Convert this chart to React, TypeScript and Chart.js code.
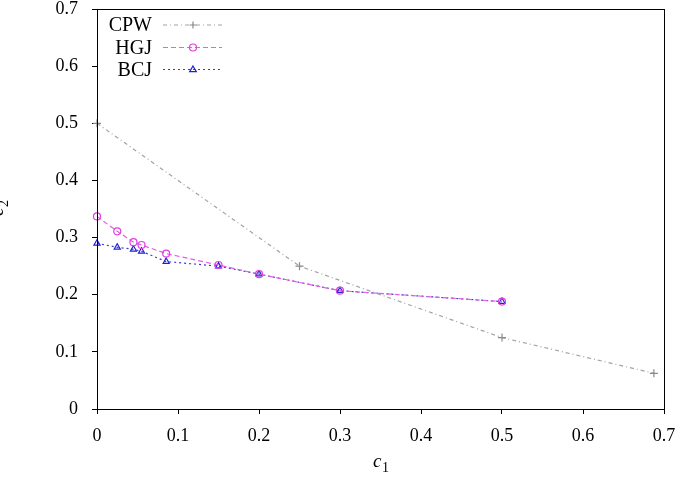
import React, { useEffect, useRef } from "react";
import { Chart, registerables } from "chart.js";

Chart.register(...registerables);

// c1 / c2 pairs for each method
const cpwX = [0, 0.25, 0.5, 0.6875];
const cpwY = [0.5, 0.25, 0.125, 0.0625];

const hgjX = [0, 0.025, 0.045, 0.055, 0.0854, 0.15, 0.2, 0.3, 0.5];
const hgjY = [0.337, 0.311, 0.292, 0.287, 0.272, 0.252, 0.236, 0.207, 0.188];

const bcjX = [0, 0.025, 0.045, 0.055, 0.0854, 0.15, 0.2, 0.3, 0.5];
const bcjY = [0.29, 0.283, 0.2795, 0.276, 0.258, 0.25, 0.236, 0.207, 0.188];

const seriesNames = ["CPW", "HGJ", "BCJ"];
const axisMin = 0;
const axisMax = 0.7;
const axisStep = 0.1;

const SERIF = "'Liberation Serif', 'Times New Roman', serif";

const styles = [
  { color: "#a3a3a3", markColor: "#8a8a8a", dash: [4, 3, 1, 3], point: "cross" },
  { color: "#e85ce8", markColor: "#e040e0", dash: [5, 3], point: "circle" },
  { color: "#3a3ad0", markColor: "#2020d0", dash: [2, 3], point: "triangle" },
];

const toPoints = (xs: number[], ys: number[]) => xs.map((x, i) => ({ x, y: ys[i] }));

function drawMarker(ctx: CanvasRenderingContext2D, kind: string, x: number, y: number, r: number) {
  ctx.beginPath();
  if (kind === "cross") {
    ctx.moveTo(x - r, y);
    ctx.lineTo(x + r, y);
    ctx.moveTo(x, y - r);
    ctx.lineTo(x, y + r);
  } else if (kind === "circle") {
    ctx.arc(x, y, r, 0, Math.PI * 2);
  } else {
    ctx.moveTo(x, y - r);
    ctx.lineTo(x + r * 0.95, y + r * 0.6);
    ctx.lineTo(x - r * 0.95, y + r * 0.6);
    ctx.closePath();
  }
  ctx.stroke();
}

const framePlugin = {
  id: "frame",
  afterDraw(chart: any) {
    const { ctx, chartArea } = chart;
    const { left, right, top, bottom } = chartArea;
    ctx.save();
    ctx.strokeStyle = "#000";
    ctx.lineWidth = 1;
    ctx.setLineDash([]);
    ctx.strokeRect(left + 0.5, top + 0.5, right - left, bottom - top);

    // legend: right-aligned name, then line sample with marker
    const rows = [25, 47.5, 69.5];
    ctx.font = `20px ${SERIF}`;
    ctx.textAlign = "right";
    ctx.textBaseline = "middle";
    seriesNames.forEach((name, i) => {
      const s = styles[i];
      const y = rows[i];
      ctx.fillStyle = "#000";
      ctx.fillText(name, 152, y + 1);
      ctx.strokeStyle = s.color;
      ctx.lineWidth = 1.2;
      ctx.setLineDash(s.dash);
      ctx.beginPath();
      ctx.moveTo(163, y);
      ctx.lineTo(222, y);
      ctx.stroke();
      ctx.setLineDash([]);
      ctx.strokeStyle = s.markColor;
      ctx.lineWidth = 1.2;
      drawMarker(ctx, s.point, 193, y, 3.5);
    });

    // x axis title c1
    ctx.fillStyle = "#000";
    ctx.textAlign = "left";
    ctx.textBaseline = "alphabetic";
    ctx.font = `italic 19px ${SERIF}`;
    ctx.fillText("c", 373, 467);
    ctx.font = `14px ${SERIF}`;
    ctx.fillText("1", 382, 472);

    // y axis title c2, rotated
    ctx.translate(3, 216);
    ctx.rotate(-Math.PI / 2);
    ctx.font = `italic 19px ${SERIF}`;
    ctx.fillText("c", 0, 0);
    ctx.font = `14px ${SERIF}`;
    ctx.fillText("2", 9, 5);
    ctx.restore();
  },
};

export default function App() {
  const ref = useRef<HTMLCanvasElement>(null);

  useEffect(() => {
    const canvas = ref.current;
    if (!canvas) return;
    const series = [toPoints(cpwX, cpwY), toPoints(hgjX, hgjY), toPoints(bcjX, bcjY)];
    const chart = new Chart(canvas, {
      type: "scatter",
      data: {
        datasets: series.map((data, i) => ({
          label: seriesNames[i],
          data,
          showLine: true,
          tension: 0,
          clip: false,
          borderColor: styles[i].color,
          borderWidth: 1.2,
          borderDash: styles[i].dash,
          pointStyle: styles[i].point === "cross" ? "cross" : styles[i].point,
          pointRadius: styles[i].point === "cross" ? 4 : 3.5,
          pointBorderColor: styles[i].markColor,
          pointBackgroundColor: "rgba(0,0,0,0)",
          pointBorderWidth: 1.2,
          pointHoverRadius: 3.5,
        })),
      },
      plugins: [framePlugin],
      options: {
        responsive: false,
        animation: false,
        events: [],
        layout: { padding: { top: 9, right: 12, left: 0, bottom: 0 } },
        plugins: { legend: { display: false }, tooltip: { enabled: false } },
        scales: {
          x: {
            type: "linear",
            min: axisMin,
            max: axisMax,
            border: { display: true, color: "#000", width: 1 },
            grid: { drawOnChartArea: false, drawTicks: true, tickLength: 5, color: "#000", tickColor: "#000" },
            ticks: {
              stepSize: axisStep,
              padding: 11,
              color: "#000",
              font: { family: SERIF, size: 18 },
              maxRotation: 0,
              callback: (v: any) => (Math.abs(v) < 1e-9 ? "0" : Number(v).toFixed(1)),
            },
            afterFit: (scale: any) => {
              scale.height = 73;
              scale.paddingLeft = 0;
              scale.paddingRight = 0;
            },
          },
          y: {
            type: "linear",
            min: axisMin,
            max: axisMax,
            border: { display: true, color: "#000", width: 1 },
            grid: { drawOnChartArea: false, drawTicks: true, tickLength: 5, color: "#000", tickColor: "#000" },
            ticks: {
              stepSize: axisStep,
              padding: 14,
              color: "#000",
              font: { family: SERIF, size: 18 },
              callback: (v: any) => (Math.abs(v) < 1e-9 ? "0" : Number(v).toFixed(1)),
            },
            afterFit: (scale: any) => {
              scale.width = 97;
              scale.paddingTop = 0;
              scale.paddingBottom = 0;
            },
          },
        },
      },
    } as any);
    return () => chart.destroy();
  }, []);

  return (
    <div style={{ position: "absolute", left: 0, top: 0, width: 676, height: 482, background: "#fff" }}>
      <canvas ref={ref} width={676} height={482} style={{ display: "block" }} />
    </div>
  );
}
